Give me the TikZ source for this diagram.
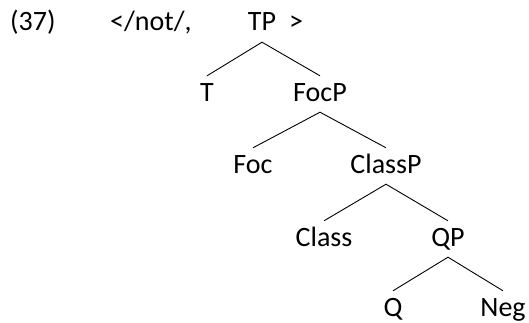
\documentclass[tikz,border=0pt]{standalone}
\usepackage{fontspec}
\setmainfont{Carlito}
\begin{document}
\begin{tikzpicture}[x=1pt,y=1pt,
  lbl/.style={anchor=base,inner sep=0pt,font=\fontsize{28}{34}\selectfont},
  tnode/.style={lbl,text height=25pt,text depth=11pt},
  leaf/.style={lbl,text height=25pt,text depth=5pt},
  branch/.style={line width=0.9pt,black}]
  \useasboundingbox (0,0) rectangle (529,322);
  % example number and the label line
  \node[lbl,anchor=base west] (num) at (10,291) {(37)};
  \node[lbl,anchor=base west] (form) at (110,291) {</not/,};
  \node[tnode] (TP) at (262,291) {TP};
  \node[lbl,anchor=base west] (close) at (289,291) {>};
  % tree nodes
  \node[tnode] (T) at (207,221) {T};
  \node[tnode] (FocP) at (320,221) {FocP};
  \node[tnode] (Foc) at (253,149) {Foc};
  \node[tnode] (ClassP) at (386,149) {ClassP};
  \node[tnode] (Class) at (324,76) {Class};
  \node[tnode] (QP) at (448,76) {QP};
  \node[leaf] (Q) at (393,6) {Q};
  \node[leaf] (Neg) at (503,6) {Neg};
  % branches
  \draw[branch] (T.north) -- (TP.south) -- (FocP.north);
  \draw[branch] (Foc.north) -- (FocP.south) -- (ClassP.north);
  \draw[branch] (Class.north) -- (ClassP.south) -- (QP.north);
  \draw[branch] (Q.north) -- (QP.south) -- (Neg.north);
\end{tikzpicture}
\end{document}
